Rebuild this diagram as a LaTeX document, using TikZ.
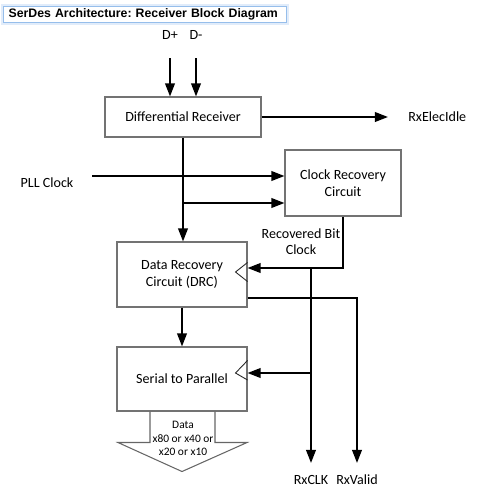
\documentclass[tikz,border=0pt]{standalone}
\usepackage{fontspec}
\setmainfont{Carlito}
\newfontfamily\titlefont{Liberation Sans}
\usetikzlibrary{arrows.meta,calc}
\definecolor{titleblue}{RGB}{150,190,235}
\definecolor{glowblue}{RGB}{225,236,250}
\tikzset{
  blk/.style={draw=black!55, line width=.6pt, fill=white, align=center, inner sep=0pt, font=\fontsize{8}{9.8}\selectfont},
  lbl/.style={inner sep=0pt, align=center, font=\fontsize{8}{9.2}\selectfont},
  sig/.style={line width=1.1pt, -{Triangle[length=7.5pt,width=5.5pt]}},
  clk/.style={draw=black!85, line width=.5pt},
  bus/.style={draw=black!60, line width=.6pt}
}
\frenchspacing
\begin{document}
\begin{tikzpicture}[x=0.02cm,y=-0.02cm]
\useasboundingbox (0,0) rectangle (480,494);
% title
\node[draw=titleblue, line width=.7pt, preaction={draw=glowblue, line width=2.8pt}, fill=white, anchor=north west, minimum height=.32cm, text width=5.46cm, inner xsep=.1cm, inner ysep=0pt, align=left, font=\titlefont\bfseries\fontsize{7}{8}\selectfont] (title) at (3,6) {SerDes Architecture: Receiver Block Diagram};
% blocks
\node[blk, minimum width=3.12cm, minimum height=.8cm] (dr) at (183,117) {Differential Receiver};
\node[blk, minimum width=2.32cm, minimum height=1.32cm, font=\fontsize{8}{9.6}\selectfont] (crc) at (343,183) {Clock Recovery\\Circuit};
\node[blk, minimum width=2.6cm, minimum height=1.3cm] (drc) at (182,274.5) {Data Recovery\\Circuit (DRC)};
\node[blk, minimum width=2.6cm, minimum height=1.28cm] (s2p) at (182,379) {Serial to Parallel};
% labels
\node[lbl] (dp) at (170,35) {D+};\node[lbl] (dm) at (196,35) {D-};
\node[lbl, anchor=west] (idle) at (408,117) {RxElecIdle};
\node[lbl] (pll) at (47,183) {PLL Clock};
\node[lbl] (rbc) at (301,242) {Recovered Bit\\Clock};
\node[lbl] (rxclk) at (311,480) {RxCLK};\node[lbl] (rxvalid) at (357,480) {RxValid};
% points
\coordinate (dpin) at (170,58);\coordinate (dmin) at (196,58);
\coordinate (idleout) at (388,117);\coordinate (pllin) at (92,176);\coordinate (tap) at (183,203);
\coordinate (clkbus) at (311,268);\coordinate (clktap) at (311,373);\coordinate (clkout) at (311,463);
\coordinate (vld) at (357,298);\coordinate (vldout) at (357,463);
% signals
\foreach \c in {dpin,dmin} \draw[sig] (\c) -- (\c |- dr.north);
\draw[sig] (dr.east) -- (idleout);
\draw[sig] (pllin) -- (pllin -| crc.west);
\draw[sig] (dr.south) -- (dr.south |- drc.north);
\draw[sig] (tap) -- (tap -| crc.west);
\draw[sig] (crc.south) |- (clkbus -| drc.east);
\draw[sig] (clkbus) -- (clkout);
\draw[sig] (clktap) -- (clktap -| s2p.east);
\draw[sig] (drc.east |- vld) -- (vld) -- (vldout);
\draw[sig] (drc.south) -- (drc.south |- s2p.north);
% clock inputs
\draw[clk] ($(drc.east)+(0,-12)$) -- ++(-12,9.5) -- ++(12,9.5);
\draw[clk] ($(s2p.east)+(0,-18.5)$) -- ++(-12,12.5) -- ++(12,7);
% data bus
\draw[bus] ($(s2p.south)+(-32,0)$) |- ($(s2p.south)+(-64,31)$) -- ($(s2p.south)+(0,60)$) -- ($(s2p.south)+(65,31)$) -| ($(s2p.south)+(33,0)$);
\node[lbl, font=\fontsize{6.5}{7.6}\selectfont] (data) at (183,438.5) {Data\\x80 or x40 or\\x20 or x10};
\end{tikzpicture}
\end{document}
